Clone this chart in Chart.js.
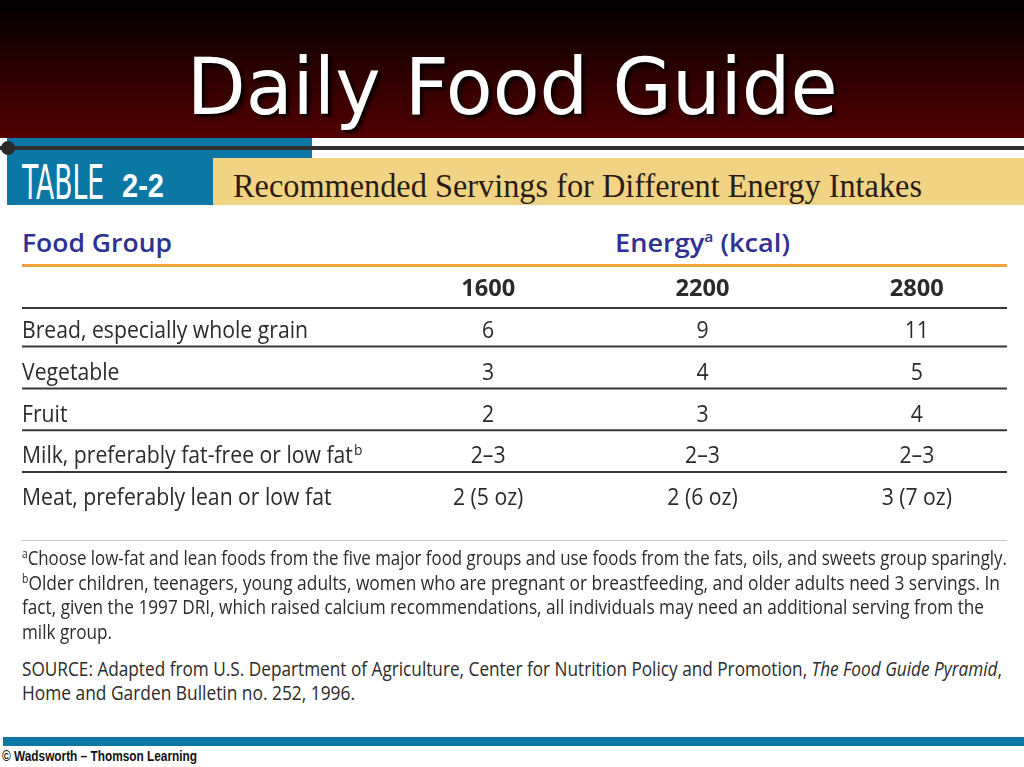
<!DOCTYPE html>
<html>
<head>
<meta charset="utf-8">
<script src="https://cdn.jsdelivr.net/npm/chart.js@4.4.1/dist/chart.umd.min.js"></script>
<style>
  html, body { margin: 0; padding: 0; }
  body { width: 1024px; height: 767px; position: relative; overflow: hidden; background: #fff; font-family: "Open Sans", sans-serif; }
  .abs { position: absolute; white-space: nowrap; line-height: 1; }
  .fit { display: inline-block; transform-origin: left top; }
  #band { left: 0; top: 0; width: 1024px; height: 138px; background: linear-gradient(#000 0%, #260000 45%, #520000 100%); }
  #title { left: 0; top: 42px; width: 1024px; text-align: center; color: #fff; font: 78px "DejaVu Sans Condensed", "DejaVu Sans", sans-serif; text-shadow: 3px 3px 3px rgba(0,0,0,0.85); }
  #title .fit { transform-origin: center top; }
  #blueTop { left: 7px; top: 138px; width: 305px; height: 20px; background: #0b77a5; }
  #blueLow { left: 7px; top: 157px; width: 206px; height: 48px; background: #0b77a5; }
  #yellow { left: 213px; top: 158px; width: 811px; height: 47px; background: #f1d483; }
  #rule { left: 0; top: 146px; width: 1024px; height: 4px; background: #2e2e2e; }
  #dot { left: 1px; top: 141px; width: 14px; height: 14px; border-radius: 50%; background: #2a2a2a; }
  #tableWord { left: 22px; top: 154px; color: #fff; font: 48px "DejaVu Sans Condensed", "DejaVu Sans", sans-serif; }
  #tableNum { left: 122px; top: 166px; color: #fff; font: bold 34px "Liberation Sans", sans-serif; }
  #subtitle { left: 233px; top: 168px; color: #2a1c14; font: 33px "Liberation Serif", serif; }
  .head { top: 229px; color: #2e3192; font-weight: 600; font-size: 26px; }
  .head sup { font-size: 15px; vertical-align: 10px; }
  #orange { left: 22px; top: 264px; width: 985px; height: 3px; background: #f2a23a; }
  #endRule { left: 22px; top: 540px; width: 985px; height: 1px; background: #c4c4c4; }
  .note { left: 22px; color: #2b2b2b; font-size: 20px; }
  .note sup { font-size: 12px; vertical-align: 7px; }
  #blueBottom { left: 3px; top: 737px; width: 1021px; height: 9px; background: #0b77a5; }
  #footer { left: 2px; top: 747px; color: #111; font: bold 15px "Liberation Sans", sans-serif; }
  #chartBox { left: 0; top: 268px; width: 1024px; height: 280px; }
</style>
</head>
<body>
<div id="band" class="abs"></div>
<div id="title" class="abs"><span class="fit" data-w="651">Daily Food Guide</span></div>
<div id="blueTop" class="abs"></div>
<div id="blueLow" class="abs"></div>
<div id="yellow" class="abs"></div>
<div id="rule" class="abs"></div>
<div id="dot" class="abs"></div>
<div id="tableWord" class="abs"><span class="fit" data-w="82">TABLE</span></div>
<div id="tableNum" class="abs"><span class="fit" data-w="42">2-2</span></div>
<div id="subtitle" class="abs"><span class="fit" data-w="689">Recommended Servings for Different Energy Intakes</span></div>
<div class="abs head" style="left:22px"><span class="fit" data-w="150">Food Group</span></div>
<div class="abs head" style="left:615px"><span class="fit" data-w="175">Energy<sup>a</sup> (kcal)</span></div>
<div id="orange" class="abs"></div>
<div id="chartBox" class="abs"><canvas id="chart" width="1024" height="280"></canvas></div>
<div id="endRule" class="abs"></div>
<div class="abs note" style="top:548px"><span class="fit" data-w="985"><sup>a</sup>Choose low-fat and lean foods from the five major food groups and use foods from the fats, oils, and sweets group sparingly.</span></div>
<div class="abs note" style="top:573px"><span class="fit" data-w="978"><sup>b</sup>Older children, teenagers, young adults, women who are pregnant or breastfeeding, and older adults need 3 servings. In</span></div>
<div class="abs note" style="top:597px"><span class="fit" data-w="962">fact, given the 1997 DRI, which raised calcium recommendations, all individuals may need an additional serving from the</span></div>
<div class="abs note" style="top:622px"><span class="fit" data-w="90">milk group.</span></div>
<div class="abs note" style="top:659px"><span class="fit" data-w="980">SOURCE: Adapted from U.S. Department of Agriculture, Center for Nutrition Policy and Promotion, <i>The Food Guide Pyramid</i>,</span></div>
<div class="abs note" style="top:683px"><span class="fit" data-w="333">Home and Garden Bulletin no. 252, 1996.</span></div>
<div id="blueBottom" class="abs"></div>
<div id="footer" class="abs"><span class="fit" data-w="195">© Wadsworth – Thomson Learning</span></div>

<script>
// table data
const energyLevels = ['1600', '2200', '2800'];
const foodGroups = [
  'Bread, especially whole grain',
  'Vegetable',
  'Fruit',
  'Milk, preferably fat-free or low fat',
  'Meat, preferably lean or low fat'
];
const groupNotes = ['', '', '', 'b', ''];
const servings1600 = ['6', '3', '2', '2–3', '2 (5 oz)'];
const servings2200 = ['9', '4', '3', '2–3', '2 (6 oz)'];
const servings2800 = ['11', '5', '4', '2–3', '3 (7 oz)'];
const servings = [servings1600, servings2200, servings2800];

// squeeze html text to the widths of the original slide
document.querySelectorAll('.fit[data-w]').forEach(el => {
  const w = el.getBoundingClientRect().width;
  el.style.transform = 'scaleX(' + (el.dataset.w / w) + ')';
});

const TABLE_LEFT = 22, TABLE_RIGHT = 1007;
const INK = '#2b2b2b';

function squeezeText(ctx, text, x, y, align, k) {
  ctx.save();
  ctx.translate(x, y);
  ctx.scale(k, 1);
  ctx.textAlign = align;
  ctx.fillText(text, 0, 0);
  ctx.restore();
}

const tableCells = {
  id: 'tableCells',
  afterDatasetsDraw(chart) {
    const ctx = chart.ctx;
    const xs = chart.scales.x, ys = chart.scales.y;
    const y0 = ys.getPixelForValue(0);
    const rowH = ys.getPixelForValue(1) - y0;
    ctx.save();

    // rules under header and between rows
    ctx.strokeStyle = '#383838';
    ctx.lineWidth = 2;
    const rules = [y0 - rowH / 2 - 1];
    for (let i = 0; i < foodGroups.length - 1; i++) rules.push(ys.getPixelForValue(i) + rowH * 0.4);
    rules.forEach(ry => {
      ctx.beginPath();
      ctx.moveTo(TABLE_LEFT, ry);
      ctx.lineTo(TABLE_RIGHT, ry);
      ctx.stroke();
    });

    ctx.fillStyle = INK;
    ctx.textBaseline = 'alphabetic';

    // header row
    ctx.font = 'bold 23px "Open Sans"';
    const kb = 54 / ctx.measureText('1600').width;
    energyLevels.forEach((e, c) => {
      squeezeText(ctx, e, xs.getPixelForValue(c), y0 - rowH + 8, 'center', kb);
    });

    // row labels
    const FONT = '23px "Open Sans"';
    ctx.font = FONT;
    const k = 286 / ctx.measureText(foodGroups[0]).width;
    foodGroups.forEach((g, r) => {
      const by = ys.getPixelForValue(r) + 8;
      ctx.font = FONT;
      squeezeText(ctx, g, TABLE_LEFT, by, 'left', k);
      if (groupNotes[r]) {
        const w = ctx.measureText(g).width * k;
        ctx.font = '15px "Open Sans"';
        squeezeText(ctx, groupNotes[r], TABLE_LEFT + w + 1, by - 8, 'left', k);
      }
    });

    // cell values at the positions of the dataset points
    ctx.font = FONT;
    chart.data.datasets.forEach((ds, c) => {
      chart.getDatasetMeta(c).data.forEach((pt, r) => {
        squeezeText(ctx, servings[c][r], pt.x, pt.y + 8, 'center', k);
      });
    });
    ctx.restore();
  }
};

new Chart(document.getElementById('chart'), {
  type: 'scatter',
  data: {
    datasets: energyLevels.map((e, c) => ({
      label: e + ' kcal',
      data: foodGroups.map(g => ({ x: e, y: g })),
      pointRadius: 0,
      showLine: false
    }))
  },
  options: {
    responsive: false,
    animation: false,
    layout: { padding: { left: 381, right: 0, top: 41, bottom: 30 } },
    scales: {
      x: { type: 'category', labels: energyLevels, offset: true, display: false },
      y: { type: 'category', labels: foodGroups, offset: true, display: false }
    },
    plugins: { legend: { display: false }, tooltip: { enabled: false } }
  },
  plugins: [tableCells]
});
</script>
</body>
</html>
